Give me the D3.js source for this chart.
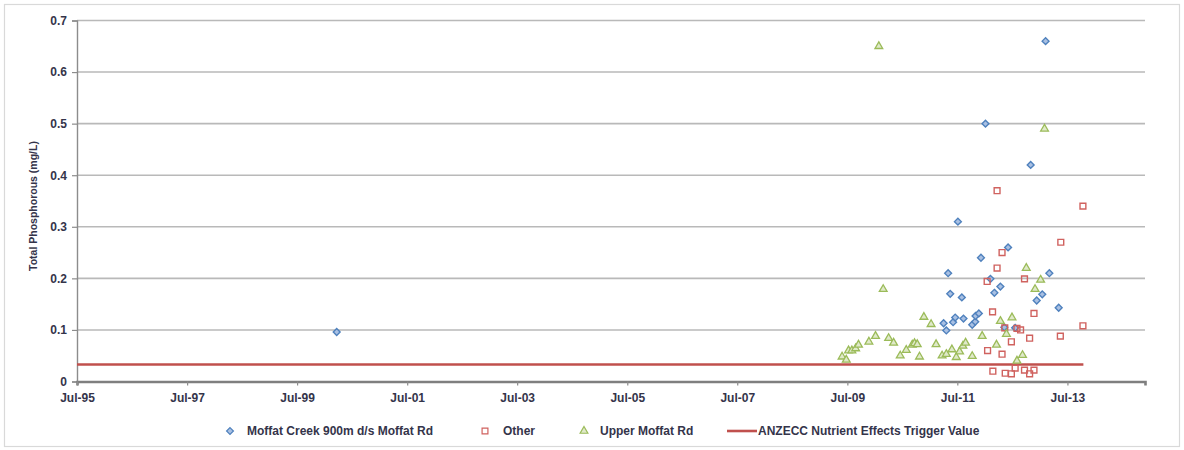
<!DOCTYPE html>
<html>
<head>
<meta charset="utf-8">
<script src="https://cdn.jsdelivr.net/npm/d3@7"></script>
<style>
  html, body { margin: 0; padding: 0; background: #ffffff; }
  svg text { font-family: "Liberation Sans", Arial, sans-serif; }
</style>
</head>
<body>
<svg id="chart" width="1184" height="450"></svg>
<script>
// Total phosphorus samples (mg/L) by site
const moffatCreekDates = [
  "2000-03-20", "2011-04-01", "2011-04-19", "2011-05-01", "2011-05-15", "2011-06-03",
  "2011-06-17", "2011-07-05", "2011-07-31", "2011-08-11", "2011-10-08", "2011-10-28",
  "2011-10-30", "2011-11-21", "2011-12-05", "2012-01-04", "2012-02-06", "2012-03-03",
  "2012-04-12", "2012-05-08", "2012-06-02", "2012-07-19", "2012-10-30", "2012-12-09",
  "2013-01-15", "2013-02-06", "2013-03-03", "2013-05-04"
];
const moffatCreekTP = [
  0.096, 0.113, 0.099, 0.21, 0.17, 0.115,
  0.124, 0.31, 0.163, 0.122, 0.11, 0.116,
  0.127, 0.132, 0.24, 0.50, 0.199, 0.172,
  0.184, 0.105, 0.26, 0.104, 0.42, 0.157,
  0.169, 0.66, 0.21, 0.143
];

const otherDates = [
  "2012-01-15", "2012-01-18", "2012-02-20", "2012-02-22", "2012-03-21", "2012-03-21",
  "2012-04-23", "2012-04-23", "2012-05-11", "2012-05-14", "2012-06-24", "2012-06-24",
  "2012-07-19", "2012-07-31", "2012-08-24", "2012-09-19", "2012-09-19", "2012-10-23",
  "2012-10-23", "2012-11-21", "2012-11-21", "2013-05-15", "2013-05-18", "2013-10-12",
  "2013-10-12"
];
const otherTP = [
  0.194, 0.06, 0.135, 0.02, 0.37, 0.22,
  0.25, 0.053, 0.104, 0.016, 0.077, 0.015,
  0.026, 0.103, 0.10, 0.199, 0.022, 0.084,
  0.015, 0.132, 0.022, 0.088, 0.27, 0.34,
  0.108
];

const upperMoffatDates = [
  "2009-05-27", "2009-06-24", "2009-07-09", "2009-07-31", "2009-08-25", "2009-09-13",
  "2009-11-21", "2010-01-04", "2010-01-26", "2010-02-24", "2010-04-01", "2010-05-04",
  "2010-06-17", "2010-07-27", "2010-09-05", "2010-09-20", "2010-10-08", "2010-10-23",
  "2010-11-21", "2011-01-08", "2011-02-10", "2011-03-22", "2011-04-19", "2011-05-26",
  "2011-06-24", "2011-07-16", "2011-08-07", "2011-08-25", "2011-10-08", "2011-12-13",
  "2012-03-17", "2012-04-12", "2012-05-22", "2012-06-28", "2012-07-31", "2012-09-06",
  "2012-10-01", "2012-11-28", "2013-01-04", "2013-01-30"
];
const upperMoffatTP = [
  0.048, 0.042, 0.06, 0.06, 0.064, 0.071,
  0.077, 0.088, 0.65, 0.179, 0.084, 0.075,
  0.05, 0.061, 0.071, 0.074, 0.072, 0.048,
  0.125, 0.111, 0.072, 0.05, 0.053, 0.062,
  0.047, 0.058, 0.069, 0.075, 0.049, 0.088,
  0.071, 0.117, 0.092, 0.124, 0.04, 0.051,
  0.22, 0.179, 0.197, 0.49
];

// ANZECC trigger value drawn as a flat reference line
const triggerDates = ["1995-07-01", "2013-10-15"];
const triggerTP = [0.033, 0.033];

// Axes
const xTickDates = [
  "1995-07-01", "1997-07-01", "1999-07-01", "2001-07-01", "2003-07-01",
  "2005-07-01", "2007-07-01", "2009-07-01", "2011-07-01", "2013-07-01"
];
const xDomain = ["1995-07-01", "2014-11-28"];
const yTicks = [0, 0.1, 0.2, 0.3, 0.4, 0.5, 0.6, 0.7];

const seriesNames = [
  "Moffat Creek 900m d/s Moffat Rd",
  "Other",
  "Upper Moffat Rd",
  "ANZECC Nutrient Effects Trigger Value"
];

const parse = d3.utcParse("%Y-%m-%d");
const fmtX = d3.utcFormat("%b-%y");

const svg = d3.select("#chart");
const W = 1184, H = 450;
const plot = { left: 77, right: 1145, top: 20.5, bottom: 381.5 };

const textColor = "#34344a";
const blue = "#4f81bd", red = "#c0504d", green = "#9bbb59";

// Outer chart frame
svg.append("rect")
  .attr("x", 4.5).attr("y", 4.5)
  .attr("width", W - 9).attr("height", H - 8)
  .attr("fill", "#ffffff")
  .attr("stroke", "#d9d9d9").attr("stroke-width", 1.2);

const x = d3.scaleUtc()
  .domain(xDomain.map(parse))
  .range([plot.left, plot.right]);
const y = d3.scaleLinear()
  .domain([0, 0.7])
  .range([plot.bottom, plot.top]);

// Horizontal gridlines
svg.append("g")
  .selectAll("line")
  .data(yTicks.filter(v => v > 0))
  .join("line")
  .attr("x1", plot.left).attr("x2", plot.right)
  .attr("y1", d => y(d)).attr("y2", d => y(d))
  .attr("stroke", "#b9b9b9").attr("stroke-width", 1.6);

// Y axis
const yAxis = svg.append("g")
  .attr("transform", `translate(${plot.left},0)`)
  .call(d3.axisLeft(y).tickValues(yTicks)
    .tickFormat(v => v === 0 ? "0" : v.toFixed(1))
    .tickSize(5).tickPadding(5));
yAxis.select(".domain").attr("stroke", "#8c8c8c").attr("stroke-width", 1.4);
yAxis.selectAll(".tick line").attr("stroke", "#8c8c8c").attr("stroke-width", 1.2);
yAxis.selectAll(".tick text")
  .attr("fill", textColor)
  .style("font-size", "12px").style("font-weight", "bold")
  .style("font-family", "'Liberation Sans', Arial, sans-serif");

// X axis
const xAxis = svg.append("g")
  .attr("transform", `translate(0,${plot.bottom})`)
  .call(d3.axisBottom(x).tickValues(xTickDates.map(parse))
    .tickFormat(fmtX).tickSizeOuter(0).tickSize(4).tickPadding(8));
xAxis.select(".domain").attr("stroke", "#7f7f7f").attr("stroke-width", 2.6);
xAxis.selectAll(".tick line").attr("stroke", "#8c8c8c").attr("stroke-width", 1.2);
xAxis.selectAll(".tick text")
  .attr("fill", textColor)
  .style("font-size", "12px").style("font-weight", "bold")
  .style("font-family", "'Liberation Sans', Arial, sans-serif");

// Y axis title
svg.append("text")
  .attr("transform", `translate(37,206) rotate(-90)`)
  .attr("text-anchor", "middle")
  .attr("fill", textColor)
  .style("font-size", "10.5px").style("font-weight", "bold")
  .text("Total Phosphorous (mg/L)");

// Trigger value line
const lineGen = d3.line().x(d => x(d[0])).y(d => y(d[1]));
svg.append("path")
  .datum(triggerDates.map((d, i) => [parse(d), triggerTP[i]]))
  .attr("d", lineGen)
  .attr("fill", "none")
  .attr("stroke", red).attr("stroke-width", 2.6);

// Marker shapes
const diamond = d3.symbol().type(d3.symbolDiamond2).size(30);
const square = d3.symbol().type(d3.symbolSquare).size(34);
const triangle = d3.symbol().type(d3.symbolTriangle).size(26);

function drawSeries(dates, values, sym, stroke, fill, sw) {
  svg.append("g")
    .selectAll("path")
    .data(dates.map((d, i) => [parse(d), values[i]]))
    .join("path")
    .attr("transform", d => `translate(${x(d[0])},${y(d[1])})`)
    .attr("d", sym)
    .attr("fill", fill)
    .attr("stroke", stroke)
    .attr("stroke-width", sw);
}

drawSeries(moffatCreekDates, moffatCreekTP, diamond, blue, "#a9c0e3", 1.4);
drawSeries(otherDates, otherTP, square, "#d0625f", "none", 1.4);
drawSeries(upperMoffatDates, upperMoffatTP, triangle, green, "#dfe9c9", 1.3);

// Legend
const legY = 431;
const legend = svg.append("g");
const legItems = [
  { x: 230, sym: diamond, stroke: blue, fill: "#a9c0e3", text: seriesNames[0], tx: 247 },
  { x: 485, sym: square, stroke: "#d0625f", fill: "none", text: seriesNames[1], tx: 503 },
  { x: 584, sym: triangle, stroke: green, fill: "#dfe9c9", text: seriesNames[2], tx: 600 }
];
legItems.forEach(it => {
  legend.append("path")
    .attr("transform", `translate(${it.x},${legY})`)
    .attr("d", it.sym)
    .attr("fill", it.fill).attr("stroke", it.stroke).attr("stroke-width", 1.2);
  legend.append("text")
    .attr("x", it.tx).attr("y", legY + 4)
    .attr("fill", textColor)
    .style("font-size", "12px").style("font-weight", "bold")
    .text(it.text);
});
legend.append("line")
  .attr("x1", 727).attr("x2", 757)
  .attr("y1", legY).attr("y2", legY)
  .attr("stroke", red).attr("stroke-width", 2.6);
legend.append("text")
  .attr("x", 758).attr("y", legY + 4)
  .attr("fill", textColor)
  .style("font-size", "12px").style("font-weight", "bold")
  .text(seriesNames[3]);
</script>
</body>
</html>
